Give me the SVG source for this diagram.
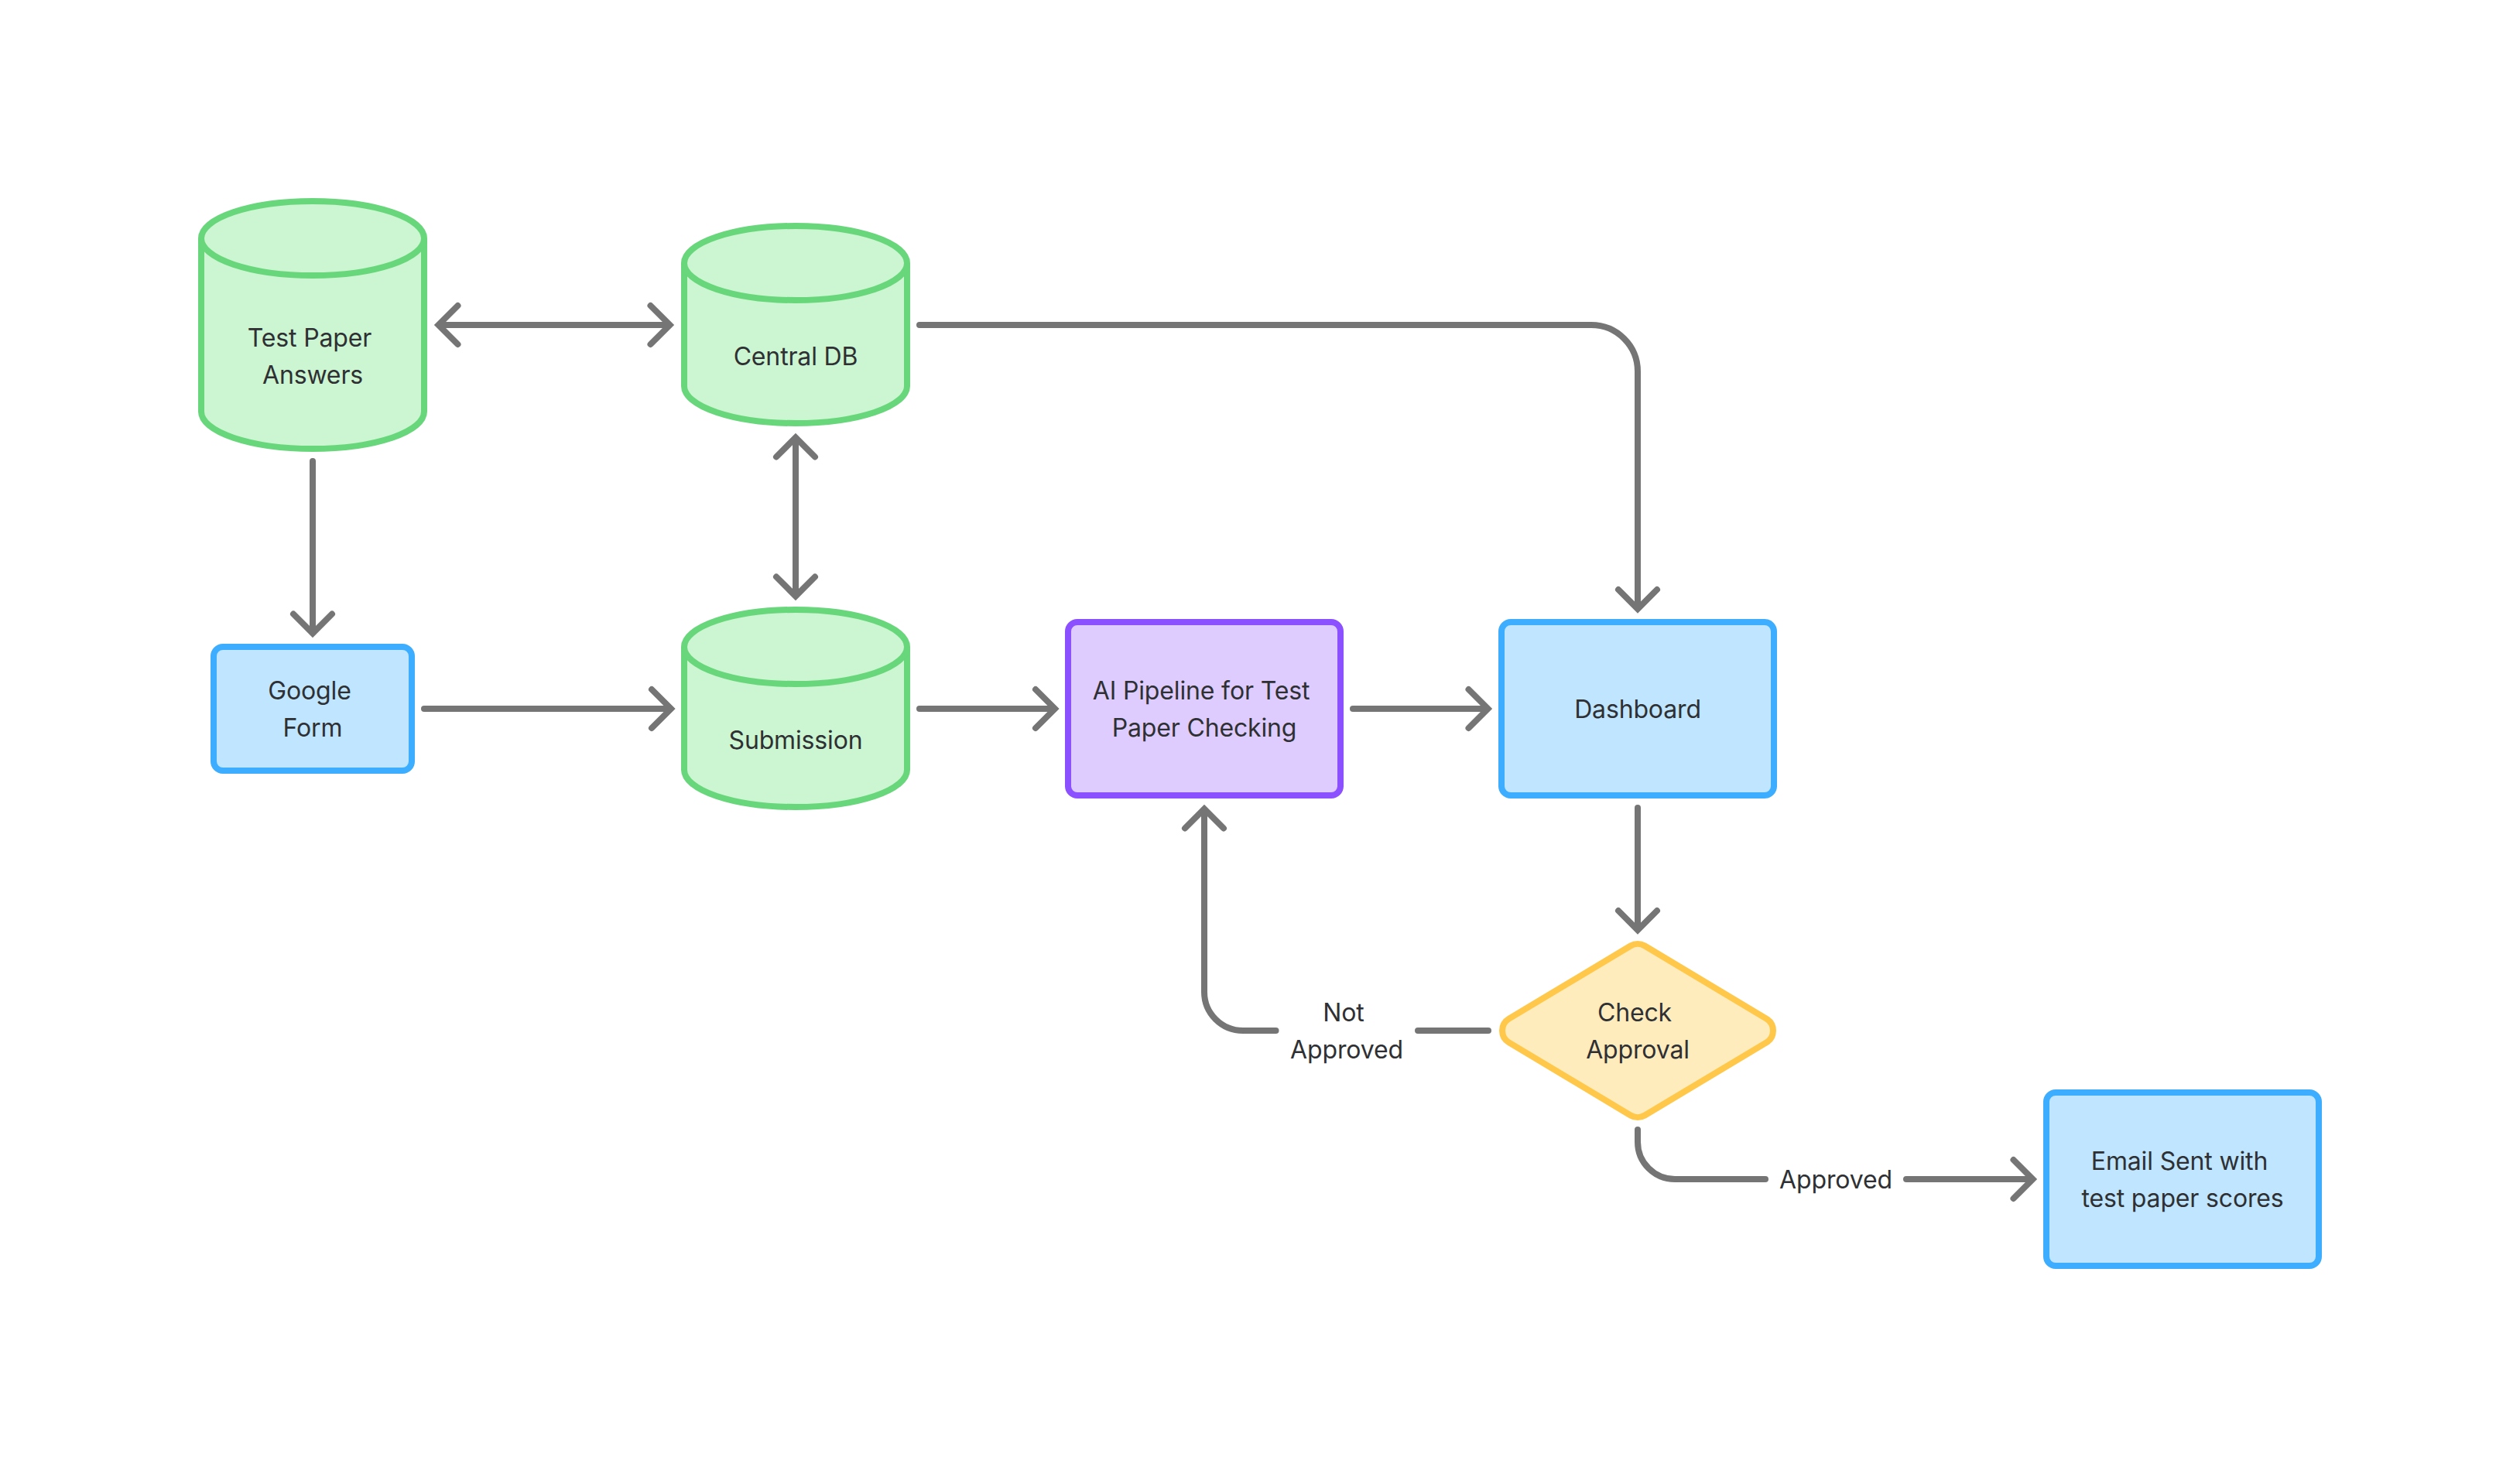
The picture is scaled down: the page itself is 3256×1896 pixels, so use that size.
<svg xmlns="http://www.w3.org/2000/svg" width="3256" height="1896" viewBox="0 0 3256 1896">
<style>
text{font-family:"Inter","Liberation Sans",sans-serif;font-size:32px;letter-spacing:-0.15px;fill:#2e3033;text-anchor:middle}
.g{fill:#ccf5d1;stroke:#68d67a;stroke-width:8}
.b{fill:#bfe5ff;stroke:#3dadff;stroke-width:8}
.p{fill:#dfccff;stroke:#8b50ff;stroke-width:8}
.y{fill:#ffecbd;stroke:#ffc84a;stroke-width:8}
.c{fill:none;stroke:#757575;stroke-width:8;stroke-linecap:round;marker-end:url(#arr)}
.both{marker-start:url(#arr)}
</style>
<defs>
<marker id="arr" markerUnits="userSpaceOnUse" markerWidth="70" markerHeight="70" refX="40" refY="35" orient="auto-start-reverse" viewBox="0 0 70 70">
<path d="M16 10L41 35L16 60" fill="none" stroke="#757575" stroke-width="8" stroke-linecap="round" stroke-linejoin="miter"/>
</marker>
</defs>
<rect width="3256" height="1896" fill="#fff"/>
<g id="connectors">
<path class="c both" d="M567.500 420H864.500"/>
<path class="c" d="M1188 420H2056A60 60 0 0 1 2116 480V786"/>
<path class="c both" d="M1028 566.500V769.500"/>
<path class="c" d="M404 596V817.500"/>
<path class="c" d="M548 916H866"/>
<path class="c" d="M1188 916H1362"/>
<path class="c" d="M1748 916H1921.500"/>
<path class="c" d="M2116 1044V1201"/>
<path class="c" d="M1923 1332H1832M1648.500 1332H1606A50 50 0 0 1 1556 1282V1046.500"/>
<path class="c" d="M2116 1460V1476A48 48 0 0 0 2164 1524H2281M2463 1524H2625.500"/>
</g>
<g id="test-paper-answers">
<path class="g" d="M260 308V532A144 48 0 0 0 548 532V308"/>
<ellipse class="g" cx="404" cy="308" rx="144" ry="48"/>
<text x="400" y="448">Test Paper</text><text x="404" y="496">Answers</text>
</g>
<g id="central-db">
<path class="g" d="M884 340V499A144 48 0 0 0 1172 499V340"/>
<ellipse class="g" cx="1028" cy="340" rx="144" ry="48"/>
<text x="1028" y="472">Central DB</text>
</g>
<g id="submission">
<path class="g" d="M884 836V995A144 48 0 0 0 1172 995V836"/>
<ellipse class="g" cx="1028" cy="836" rx="144" ry="48"/>
<text x="1028" y="968">Submission</text>
</g>
<g id="google-form">
<rect class="b" x="276" y="836" width="256" height="160" rx="12"/>
<text x="400" y="904">Google</text><text x="404" y="952">Form</text>
</g>
<g id="ai-pipeline">
<rect class="p" x="1380" y="804" width="352" height="224" rx="12"/>
<text x="1552" y="904">AI Pipeline for Test</text><text x="1556" y="952">Paper Checking</text>
</g>
<g id="dashboard">
<rect class="b" x="1940" y="804" width="352" height="224" rx="12"/>
<text x="2116" y="928">Dashboard</text>
</g>
<g id="check-approval">
<path class="y" d="M2106.740 1222.550A18 18 0 0 1 2125.260 1222.550L2282.300 1316.600A18 18 0 0 1 2282.300 1347.400L2125.260 1441.450A18 18 0 0 1 2106.740 1441.450L1949.700 1347.400A18 18 0 0 1 1949.700 1316.600Z"/>
<text x="2112" y="1320">Check</text><text x="2116" y="1368">Approval</text>
</g>
<g id="email-sent">
<rect class="b" x="2644" y="1412" width="352" height="224" rx="12"/>
<text x="2816" y="1512">Email Sent with</text><text x="2820" y="1560">test paper scores</text>
</g>
<g id="labels">
<text x="1736" y="1320">Not</text><text x="1740" y="1368">Approved</text>
<text x="2372" y="1536">Approved</text>
</g>
</svg>
